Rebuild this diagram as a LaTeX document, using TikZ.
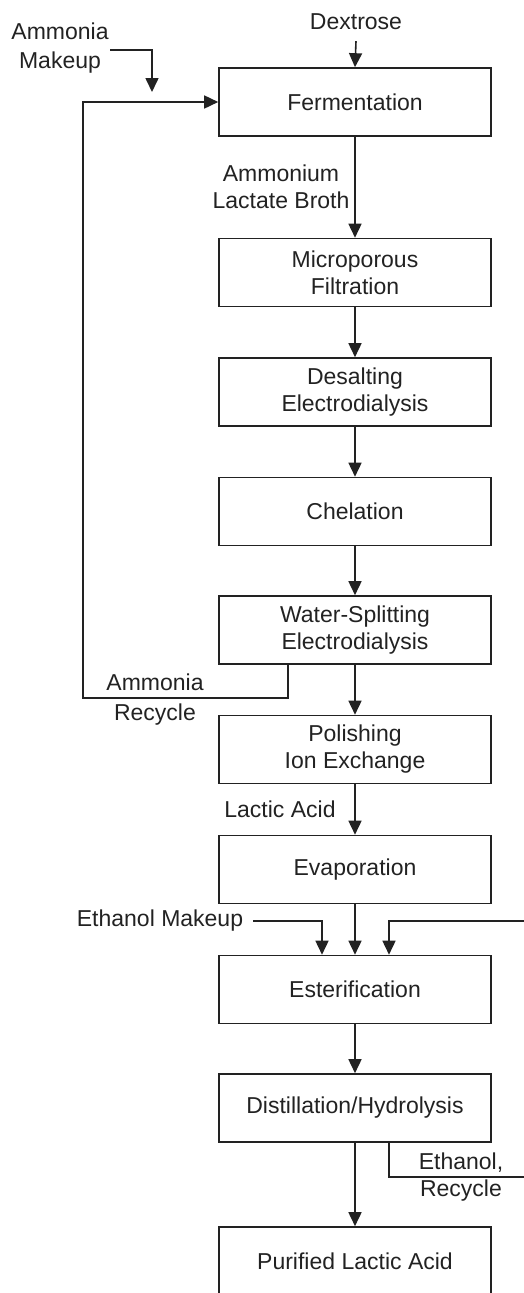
\documentclass[tikz,border=0pt]{standalone}
\usepackage{fontspec}
\setmainfont{Liberation Sans}
\usetikzlibrary{arrows.meta}
\definecolor{ink}{HTML}{222222}
\begin{document}
\begin{tikzpicture}[x=1pt,y=-1pt,
  every node/.style={font=\fontsize{23}{27}\selectfont, text=ink},
  proc/.style={draw=ink, line width=1.6pt, minimum width=272pt, minimum height=68pt, align=center, inner sep=0pt},
  lbl/.style={align=center, inner sep=0pt},
  flow/.style={draw=ink, line width=1.6pt, -{Triangle[width=13pt,length=14pt]}},
  plain/.style={draw=ink, line width=1.6pt}]
\useasboundingbox (0,0) rectangle (524,1293);
\clip (0,0) rectangle (524,1293);

% process boxes
\node[proc] (ferm)   at (355,102)   {Fermentation};
\node[proc] (micro)  at (355,272.5) {Microporous\\Filtration};
\node[proc] (desalt) at (355,392)   {Desalting\\Electrodialysis};
\node[proc] (chel)   at (355,511.5) {Chelation};
\node[proc] (ws)     at (355,630)   {Water-Splitting\\Electrodialysis};
\node[proc] (pol)    at (355,749.5) {Polishing\\Ion Exchange};
\node[proc] (evap)   at (355,869.5) {Evaporation};
\node[proc] (ester)  at (355,989.5) {Esterification};
\node[proc] (dist)   at (355,1108)  {Distillation/Hydrolysis};
\node[proc] (pur)    at (355,1261)  {Purified Lactic Acid};

% feed labels
\node[lbl, inner ysep=11pt] (dex) at (356,22) {Dextrose};
\node[lbl, font=\fontsize{23}{29}\selectfont] (amk) at (60,48) {Ammonia\\Makeup};
\node[lbl] (alb) at (281,187) {Ammonium\\Lactate Broth};
\node[lbl, font=\fontsize{23}{30}\selectfont] (arec) at (155,700) {Ammonia\\Recycle};
\node[lbl] (la) at (280,809) {Lactic Acid};
\node[lbl, inner xsep=0pt] (emk) at (160,921) {Ethanol Makeup};
\node[lbl] (erec) at (461,1177) {Ethanol,\\Recycle};

% coordinates
\coordinate (amkout) at (110,50);
\coordinate (merge) at (152,102);
\coordinate (lc) at (83,698);
\coordinate (emkout) at (253,921);
\coordinate (r1) at (545,1177);
\coordinate (r2) at (545,921);

% main flow
\draw[flow] (dex.south) -- (ferm.north);
\draw[flow] (ferm.south) -- (micro.north);
\draw[flow] (micro.south) -- (desalt.north);
\draw[flow] (desalt.south) -- (chel.north);
\draw[flow] (chel.south) -- (ws.north);
\draw[flow] (ws.south) -- (pol.north);
\draw[flow] (pol.south) -- (evap.north);
\draw[flow] (evap.south) -- (ester.north);
\draw[flow] (ester.south) -- (dist.north);
\draw[flow] (dist.south) -- (pur.north);

% ammonia makeup
\draw[flow, shorten >=10pt] (amkout) -| (merge);
% ammonia recycle
\draw[flow] ([xshift=-67pt]ws.south) |- (lc) |- (ferm.west);
% ethanol makeup
\draw[flow] (emkout) -| ([xshift=-33pt]ester.north);
% ethanol recycle
\draw[flow] ([xshift=34pt]dist.south) |- (r1) -- (r2) -| ([xshift=34pt]ester.north);
\end{tikzpicture}
\end{document}
